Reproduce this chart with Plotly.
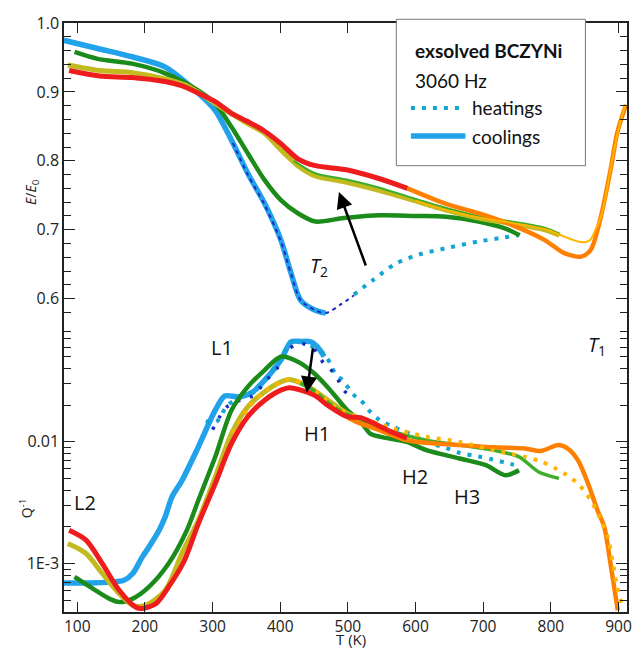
import plotly.graph_objects as go

# ---------------- DATA ----------------
# Top panel: E/E0 vs T (K)
blue_cool_T = [80, 130, 181, 230, 279, 304, 328, 352, 377, 401, 416, 430, 450, 467]
blue_cool_E = [0.975, 0.963, 0.951, 0.936, 0.898, 0.873, 0.830, 0.782, 0.738, 0.685, 0.637, 0.598, 0.584, 0.579]

dblue_heat_T = [330, 352, 377, 401, 416, 430, 450, 467, 490, 509]
dblue_heat_E = [0.826, 0.780, 0.736, 0.683, 0.636, 0.598, 0.584, 0.579, 0.592, 0.605]

teal_heat_T = [509, 537, 571, 605, 644, 693, 725, 752]
teal_heat_E = [0.606, 0.627, 0.651, 0.664, 0.673, 0.683, 0.688, 0.692]

green_T = [96, 130, 181, 230, 279, 304, 328, 352, 377, 401, 426, 452, 494, 547, 600, 645, 693, 732, 754]
green_E = [0.958, 0.948, 0.941, 0.927, 0.902, 0.883, 0.849, 0.811, 0.772, 0.743, 0.724, 0.712, 0.717, 0.721, 0.720, 0.719, 0.712, 0.702, 0.692]

lgreen_T = [420, 452, 498, 547, 596, 644, 693, 742, 791, 813]
lgreen_E = [0.800, 0.782, 0.773, 0.761, 0.746, 0.732, 0.720, 0.712, 0.703, 0.694]

olive_T = [86, 133, 181, 230, 260, 304, 352, 377, 401, 426, 452, 498, 547, 596, 644, 693, 742, 791, 813]
olive_E = [0.939, 0.931, 0.928, 0.919, 0.910, 0.883, 0.854, 0.840, 0.816, 0.793, 0.778, 0.769, 0.757, 0.743, 0.729, 0.717, 0.709, 0.700, 0.692]

yellow_T = [600, 644, 693, 742, 791, 820, 840, 850, 858, 866, 876, 889, 899, 910]
yellow_E = [0.742, 0.729, 0.718, 0.710, 0.701, 0.690, 0.683, 0.682, 0.685, 0.700, 0.725, 0.792, 0.841, 0.882]

orange_T = [588, 644, 693, 742, 791, 820, 845, 859, 874, 889, 898, 911]
orange_E = [0.760, 0.738, 0.724, 0.707, 0.685, 0.666, 0.661, 0.671, 0.719, 0.791, 0.840, 0.881]

red_T = [88, 133, 181, 230, 254, 279, 304, 328, 352, 377, 401, 426, 452, 498, 547, 588]
red_E = [0.931, 0.923, 0.921, 0.915, 0.909, 0.898, 0.886, 0.869, 0.857, 0.843, 0.825, 0.803, 0.793, 0.787, 0.774, 0.760]

# Bottom panel: Q^-1 vs T (K)
qblue_cool_T = [80, 120, 169, 182, 196, 206, 221, 230, 240, 255, 279, 304, 318, 338, 357, 377, 401, 416, 430, 445, 455, 465]
qblue_cool_Q = [6.93e-4, 6.93e-4, 7.29e-4, 8.28e-4, 1.13e-3, 1.37e-3, 1.88e-3, 2.42e-3, 3.53e-3, 4.84e-3, 9.10e-3,
                0.0182, 0.0238, 0.0234, 0.0251, 0.0321, 0.0470, 0.0664, 0.0668, 0.0664, 0.0603, 0.0501]

qteal_heat_T = [290, 305, 322, 340, 360, 380, 401, 416, 430, 449, 464, 474, 481, 492, 509, 519, 533, 547, 567, 596,
                616, 645, 665, 693, 714, 732, 754]
qteal_heat_Q = [0.0148, 0.0145, 0.0200, 0.0229, 0.0263, 0.0339, 0.0490, 0.0661, 0.0668, 0.0603, 0.0533, 0.0442,
                0.0365, 0.0321, 0.0242, 0.0220, 0.0177, 0.0151, 0.0133, 0.0114, 0.0100, 8.91e-3, 8.13e-3, 7.59e-3,
                7.16e-3, 6.76e-3, 6.31e-3]

qdblue_heat_T = [300, 320, 340, 360, 380, 395, 410, 430, 450, 465, 480, 494, 506]
qdblue_heat_Q = [0.0126, 0.0191, 0.0219, 0.0240, 0.0324, 0.0398, 0.0562, 0.0646, 0.0575, 0.0437, 0.0365, 0.0266, 0.0228]

qgreen_T = [96, 123, 147, 162, 182, 206, 235, 262, 279, 304, 328, 352, 377, 401, 426, 450, 474, 499, 519, 533, 548,
            587, 616, 665, 704, 733, 753]
qgreen_Q = [7.76e-4, 6.22e-4, 5.15e-4, 4.83e-4, 5.15e-4, 6.43e-4, 1.0e-3, 1.88e-3, 3.31e-3, 7.53e-3, 0.0182, 0.0283,
            0.0389, 0.0501, 0.0455, 0.0366, 0.0266, 0.0182, 0.0146, 0.0117, 0.0110, 0.0100, 8.55e-3, 7.30e-3,
            6.43e-3, 5.32e-3, 5.85e-3]

qlgreen_T = [430, 450, 470, 490, 519, 567, 616, 665, 714, 753, 782, 812]
qlgreen_Q = [0.0302, 0.0263, 0.0213, 0.0178, 0.0151, 0.0121, 0.0103, 9.40e-3, 8.55e-3, 7.53e-3, 5.66e-3, 5.01e-3]

qolive_T = [86, 113, 137, 162, 182, 201, 230, 256, 279, 304, 328, 352, 377, 401, 413, 438, 474, 499, 548]
qolive_Q = [1.46e-3, 1.21e-3, 8.28e-4, 5.66e-4, 4.54e-4, 4.54e-4, 6.03e-4, 1.26e-3, 2.27e-3, 5.15e-3, 0.0117,
            0.0194, 0.0258, 0.0311, 0.0326, 0.0292, 0.0213, 0.0171, 0.0133]

qyellow_T = [330, 355, 377, 400, 413, 438, 460, 484, 520, 567, 616, 665, 714, 762, 787, 807, 820, 840, 859, 874,
             884, 891, 898, 906]
qyellow_Q = [0.0117, 0.0195, 0.0260, 0.0309, 0.0327, 0.0295, 0.0240, 0.0188, 0.0158, 0.0129, 0.0110, 0.0100,
             8.55e-3, 7.53e-3, 6.85e-3, 6.04e-3, 5.50e-3, 4.55e-3, 3.32e-3, 2.27e-3, 1.66e-3, 1.06e-3, 6.43e-4, 4.40e-4]

qorange_T = [500, 519, 533, 560, 587, 620, 665, 715, 762, 785, 811, 825, 840, 855, 869, 879, 889, 899]
qorange_Q = [0.0158, 0.0141, 0.0133, 0.0117, 0.0103, 9.77e-3, 9.40e-3, 9.02e-3, 8.81e-3, 8.41e-3, 9.40e-3, 8.81e-3,
             7.08e-3, 4.55e-3, 2.74e-3, 2.0e-3, 9.37e-4, 4.13e-4]

qred_T = [88, 113, 137, 162, 186, 196, 216, 235, 258, 279, 304, 328, 352, 377, 401, 414, 450, 470, 499, 519, 558, 587]
qred_Q = [1.88e-3, 1.56e-3, 1.0e-3, 6.03e-4, 4.40e-4, 4.27e-4, 4.68e-4, 6.43e-4, 1.05e-3, 2.13e-3, 4.55e-3, 9.70e-3,
          0.0161, 0.0220, 0.0266, 0.0278, 0.0242, 0.0200, 0.0161, 0.0158, 0.0125, 0.0107]

x_ticks = [100, 200, 300, 400, 500, 600, 700, 800, 900]
e_ticks = [0.6, 0.7, 0.8, 0.9, 1.0]
e_ticktext = ["0.6", "0.7", "0.8", "0.9", "1.0"]
e_minor = [0.58, 0.62, 0.64, 0.66, 0.68, 0.72, 0.74, 0.76, 0.78, 0.82, 0.84, 0.86, 0.88, 0.92, 0.94, 0.96, 0.98]
q_ticks = [0.001, 0.01]
q_ticktext = ["1E-3", "0.01"]
q_minor = [4e-4, 5e-4, 6e-4, 7e-4, 8e-4, 9e-4, 2e-3, 3e-3, 4e-3, 5e-3, 6e-3, 7e-3, 8e-3, 9e-3,
           0.02, 0.03, 0.04, 0.05, 0.06, 0.07, 0.08]

# ---------------- STYLE ----------------
C_BLUE = "#22A2EA"
C_TEAL = "#13A6D2"
C_DBLUE = "#1A2CC4"
C_GREEN = "#1B8C1B"
C_LGREEN = "#3DAD2A"
C_OLIVE = "#C2BA1E"
C_YELLOW = "#FFB400"
C_ORANGE = "#FF8000"
C_RED = "#EE1C1C"
FONT = "Open Sans"
LFONT = "Lato"

fig = go.Figure()


def add(xs, ys, color, width, panel, dash="solid"):
    xa, ya = ("x2", "y") if panel == "top" else ("x", "y2")
    fig.add_trace(go.Scatter(x=xs, y=ys, mode="lines", xaxis=xa, yaxis=ya,
                             line=dict(color=color, width=width, dash=dash, shape="spline", smoothing=0.8),
                             showlegend=False, hoverinfo="skip"))


DOT = "4px,7px"
# top panel
add(blue_cool_T, blue_cool_E, C_BLUE, 5.5, "top")
add(dblue_heat_T, dblue_heat_E, C_DBLUE, 2, "top", dash="4px,4px")
add(teal_heat_T, teal_heat_E, C_TEAL, 4, "top", dash=DOT)
add(green_T, green_E, C_GREEN, 4.5, "top")
add(olive_T, olive_E, C_OLIVE, 5, "top")
add(lgreen_T, lgreen_E, C_LGREEN, 2, "top")
add(orange_T, orange_E, C_ORANGE, 4.5, "top")
add(yellow_T, yellow_E, C_YELLOW, 2, "top")
add(red_T, red_E, C_RED, 5, "top")
# bottom panel
add(qblue_cool_T, qblue_cool_Q, C_BLUE, 5.5, "bot")
add(qteal_heat_T, qteal_heat_Q, C_TEAL, 4, "bot", dash=DOT)
add(qdblue_heat_T, qdblue_heat_Q, C_DBLUE, 3.5, "bot", dash="3px,10px")
add(qgreen_T, qgreen_Q, C_GREEN, 4.5, "bot")
add(qolive_T, qolive_Q, C_OLIVE, 5, "bot")
add(qlgreen_T, qlgreen_Q, C_LGREEN, 3.5, "bot")
add(qorange_T, qorange_Q, C_ORANGE, 4.5, "bot")
add(qyellow_T, qyellow_Q, C_YELLOW, 4, "bot", dash=DOT)
add(qred_T, qred_Q, C_RED, 5, "bot")

AX = "#222222"
SPLIT = 0.4856
common = dict(showline=True, linecolor=AX, linewidth=1.5, showgrid=False, zeroline=False,
              ticks="inside", tickcolor=AX, tickwidth=1.3)
fig.update_layout(
    width=636, height=650,
    margin=dict(l=64, r=4, t=23, b=38),
    paper_bgcolor="white", plot_bgcolor="white",
    font=dict(family=FONT, size=16, color="#222"),
    showlegend=False,
    xaxis=dict(domain=[0, 1], anchor="y2", range=[80.4, 912.6], tickmode="array", tickvals=x_ticks,
               ticklen=10, tickfont=dict(size=15.5), **common),
    xaxis2=dict(domain=[0, 1], anchor="y", range=[80.4, 912.6], side="top", tickmode="array", tickvals=x_ticks,
                showticklabels=False, ticklen=10, **common),
    yaxis=dict(domain=[SPLIT, 1], range=[0.5604, 1.0], tickmode="array", tickvals=e_ticks, ticktext=e_ticktext,
               ticklen=11, mirror="ticks", tickfont=dict(size=16),
               minor=dict(tickmode="array", tickvals=e_minor, ticks="inside", ticklen=7, tickwidth=1.2,
                          tickcolor=AX, showgrid=False), **common),
    yaxis2=dict(domain=[0, SPLIT], type="log", range=[-3.398, -1.048], tickmode="array", tickvals=q_ticks,
                ticktext=q_ticktext, ticklen=11, mirror="ticks", tickfont=dict(size=16),
                minor=dict(tickmode="array", tickvals=q_minor, ticks="inside", ticklen=7, tickwidth=1.2,
                           tickcolor=AX, showgrid=False), **common),
)

ann_font = dict(family=FONT, size=20, color="#111")
labels = [("L1", 314.4, -1.226), ("L2", 110.8, -2.50), ("H1", 455, -1.929), ("H2", 599.4, -2.282),
          ("H3", 675.8, -2.446)]
for txt, xv, yv in labels:
    fig.add_annotation(text=txt, x=xv, y=yv, xref="x", yref="y2", showarrow=False, font=ann_font)
fig.add_annotation(text="<i>T</i><sub>1</sub>", x=868, y=-1.205, xref="x", yref="y2", showarrow=False,
                   font=ann_font)
fig.add_annotation(text="<i>T</i><sub>2</sub>", x=458, y=0.647, xref="x2", yref="y", showarrow=False,
                   font=ann_font)
# arrows
fig.add_annotation(x=486.8, y=0.7548, ax=527.3, ay=0.646, xref="x2", yref="y", axref="x2", ayref="y",
                   text="", showarrow=True, arrowhead=2, arrowsize=1.3, arrowwidth=2.5, arrowcolor="#000")
fig.add_annotation(x=439.3, y=-1.597, ax=448.7, ay=-1.219, xref="x", yref="y2", axref="x", ayref="y2",
                   text="", showarrow=True, arrowhead=2, arrowsize=1.3, arrowwidth=2.5, arrowcolor="#000")
# axis titles
fig.add_annotation(text="<i>E</i>/<i>E</i><sub>0</sub>", x=-0.0581, y=0.7136, xref="paper", yref="paper",
                   xanchor="center", yanchor="middle", textangle=-90, showarrow=False,
                   font=dict(family=FONT, size=14, color="#222"))
fig.add_annotation(text="Q<sup>-1</sup>", x=-0.0669, y=0.1766, xref="paper", yref="paper",
                   xanchor="center", yanchor="middle", textangle=-90, showarrow=False,
                   font=dict(family=FONT, size=14, color="#222"))
fig.add_annotation(text="T (K)", x=0.509, y=-0.0645, xref="paper", yref="paper",
                   xanchor="center", yanchor="bottom", showarrow=False, borderpad=0,
                   font=dict(family=FONT, size=15, color="#222"))

# legend box (key)
fig.add_shape(type="rect", xref="paper", yref="paper", x0=0.5903, x1=0.9261, y0=0.7577, y1=1.0063,
              line=dict(color="#777", width=1), fillcolor="white", layer="above")
fig.add_annotation(text="<b>exsolved BCZYNi</b>", x=0.6197, y=0.9534, xref="paper", yref="paper",
                   xanchor="left", yanchor="middle", showarrow=False, font=dict(family=LFONT, size=19, color="#111"))
fig.add_annotation(text="3060 Hz", x=0.6197, y=0.9032, xref="paper", yref="paper",
                   xanchor="left", yanchor="middle", showarrow=False, font=dict(family=LFONT, size=19, color="#111"))
fig.add_shape(type="line", xref="paper", yref="paper", x0=0.6162, x1=0.7130, y0=0.8557, y1=0.8557,
              line=dict(color=C_TEAL, width=4, dash=DOT), layer="above")
fig.add_shape(type="line", xref="paper", yref="paper", x0=0.6162, x1=0.7130, y0=0.8081, y1=0.8081,
              line=dict(color=C_BLUE, width=5.5), layer="above")
fig.add_annotation(text="heatings", x=0.7213, y=0.8557, xref="paper", yref="paper",
                   xanchor="left", yanchor="middle", showarrow=False, font=dict(family=LFONT, size=19, color="#111"))
fig.add_annotation(text="coolings", x=0.7213, y=0.8081, xref="paper", yref="paper",
                   xanchor="left", yanchor="middle", showarrow=False, font=dict(family=LFONT, size=19, color="#111"))

fig.write_html("out.html")
